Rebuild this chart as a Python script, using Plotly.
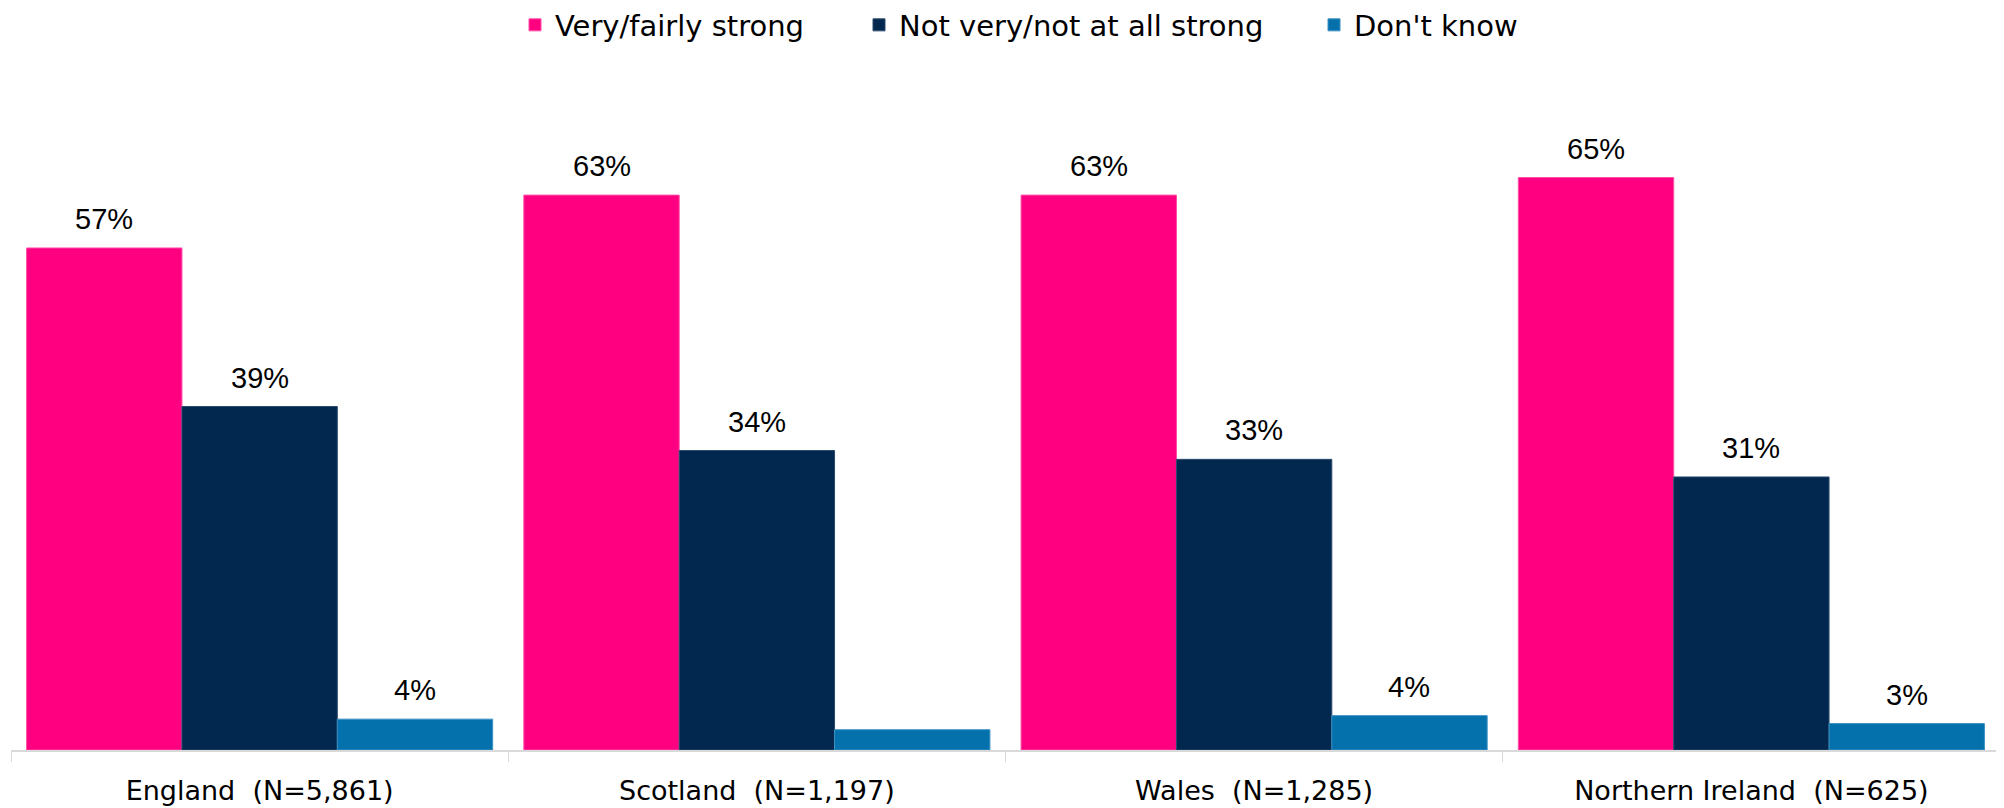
import plotly.graph_objects as go

categories = ["England  (N=5,861)", "Scotland  (N=1,197)", "Wales  (N=1,285)", "Northern Ireland  (N=625)"]
series_names = ["Very/fairly strong", "Not very/not at all strong", "Don't know"]
strong = [57, 63, 63, 65]
not_strong = [39, 34, 33, 31]
dont_know = [3.5, 2.3, 3.9, 3.0]
strong_labels = ["57%", "63%", "63%", "65%"]
not_strong_labels = ["39%", "34%", "33%", "31%"]
dont_know_labels = ["4%", "", "4%", "3%"]

colors = ["#FF0080", "#03284F", "#0571AC"]
edge_colors = ["#FF4DA6", "#2A4A6E", "#3A90C4"]
axis_font = "DejaVu Sans, Verdana, sans-serif"
label_font = "Liberation Sans Narrow, Liberation Sans, Arial, sans-serif"
legend_ids = ["legend", "legend2", "legend3"]
legend_x_px = [507, 851, 1306]

W, H = 2004, 808
BARGAP = 0.0627
bar_w = (1 - BARGAP) / 3

fig = go.Figure()
all_vals = [strong, not_strong, dont_know]
all_labels = [strong_labels, not_strong_labels, dont_know_labels]
for j, (name, vals, labs, col, ecol, lid) in enumerate(zip(series_names, all_vals, all_labels,
                                                           colors, edge_colors, legend_ids)):
    fig.add_trace(go.Bar(
        name=name, x=categories, y=vals, legend=lid,
        marker=dict(color=col, line=dict(color=ecol, width=1)),
    ))
    for i, (v, t) in enumerate(zip(vals, labs)):
        if t:
            fig.add_annotation(x=i + (j - 1) * bar_w, y=v, text=t, showarrow=False,
                               xref="x", yref="y", yanchor="bottom", yshift=11,
                               font=dict(size=29, family=label_font, color="#000000"))

legend_common = dict(orientation="h", xref="container", yref="container",
                     xanchor="left", yanchor="middle", y=1 - 17 / H,
                     font=dict(size=29, family=axis_font, color="#000000"),
                     itemwidth=30, bgcolor="rgba(0,0,0,0)")
fig.update_layout(
    width=W, height=H,
    barmode="group", bargap=BARGAP, bargroupgap=0,
    plot_bgcolor="white", paper_bgcolor="white",
    margin=dict(l=3, r=12, t=92, b=65.5, autoexpand=False),
    font=dict(family=axis_font, size=27, color="#000000"),
    showlegend=True,
    legend=dict(legend_common, x=legend_x_px[0] / W),
    legend2=dict(legend_common, x=legend_x_px[1] / W),
    legend3=dict(legend_common, x=legend_x_px[2] / W),
)
fig.update_xaxes(showline=True, linecolor="#D9D9D9", linewidth=1.5,
                 ticks="outside", tickson="boundaries", ticklen=10, tickcolor="#D9D9D9",
                 ticklabelstandoff=16, automargin=False,
                 tickfont=dict(size=27, family=axis_font, color="#000000"), showgrid=False)
fig.update_yaxes(range=[0, 73.8], visible=False, showgrid=False)

fig.write_html("out.html")
